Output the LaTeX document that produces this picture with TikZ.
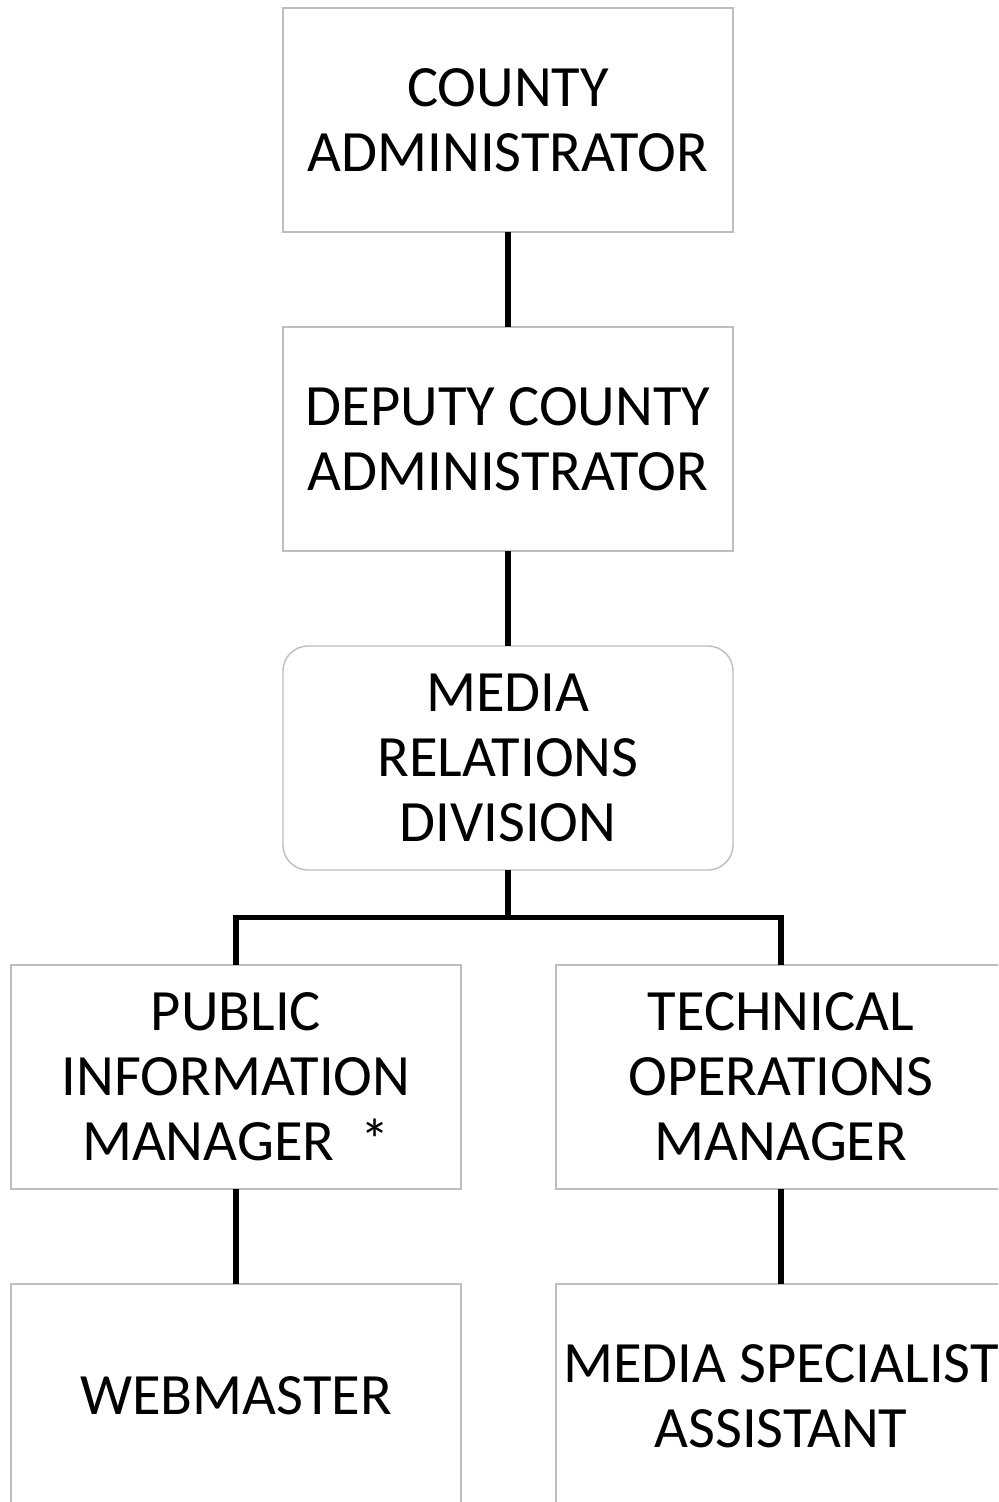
\documentclass[tikz,border=0pt]{standalone}
\usepackage{fontspec}
\setmainfont{Carlito}
\usepackage{tikz}
\usetikzlibrary{positioning,calc}

\definecolor{boxgray}{RGB}{190,190,190}

\begin{document}
\begin{tikzpicture}[post/.style={rectangle, draw=boxgray, line width=0.8pt, minimum width=9cm, minimum height=4.48cm, align=center, font=\fontsize{33.3}{37}\selectfont, outer sep=0pt},
                    division/.style={post, rounded corners=0.5cm},
                    link/.style={line width=3.4pt},
                    node distance=1.9cm]

\clip (-10.16,2.4) rectangle (9.8,-27.64);

% Upper chain
\node[post] (admin) {COUNTY\\ ADMINISTRATOR};
\node[post, below=of admin] (deputy) {DEPUTY COUNTY\\ ADMINISTRATOR};
\node[division, below=of deputy] (media) {MEDIA\\ RELATIONS\\ DIVISION};

% The two managers and their staff
\node[post, below=of media.south, anchor=north, xshift=-5.44cm] (public) {PUBLIC\\ INFORMATION\\ MANAGER\ \ *};
\node[post, right=of public] (technical) {TECHNICAL\\ OPERATIONS\\ MANAGER};
\node[post, below=of public] (webmaster) {WEBMASTER};
\node[post, below=of technical] (specialist) {MEDIA SPECIALIST\\ ASSISTANT};

% Connectors
\draw[link] (admin) -- (deputy);
\draw[link] (deputy) -- (media);
\coordinate (fork) at ($(media.south)!0.5!(media.south |- public.north)$);
\draw[link] (media.south) -- (fork);
\draw[link] (public.north) |- (fork) -| (technical.north);
\draw[link] (public) -- (webmaster);
\draw[link] (technical) -- (specialist);

\end{tikzpicture}
\end{document}
